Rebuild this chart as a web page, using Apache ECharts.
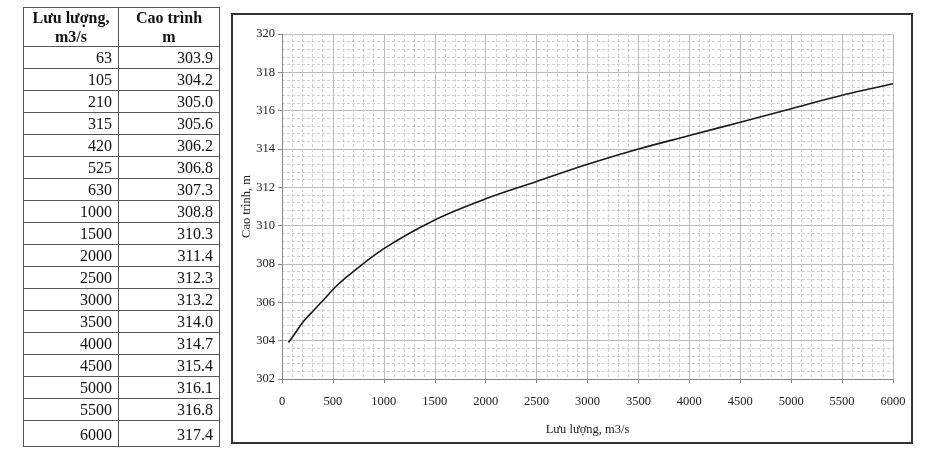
<!DOCTYPE html>
<html>
<head>
<meta charset="utf-8">
<script src="https://cdn.jsdelivr.net/npm/echarts@6/dist/echarts.min.js"></script>
<style>
  html, body { margin: 0; padding: 0; background: #fff; }
  #main { position: absolute; left: 0; top: 0; width: 928px; height: 462px; }
  #tbl {
    position: absolute; left: 23px; top: 7px; border-collapse: collapse;
    font-family: 'Liberation Serif', 'DejaVu Serif', serif; font-size: 16px; color: #111;
  }
  #tbl td, #tbl th { border: 1.5px solid #555; padding: 0 6px; }
  #tbl th { font-weight: bold; text-align: center; line-height: 19px; height: 37px; padding: 0 4px; }
  #tbl td { text-align: right; height: 21px; line-height: 21px; }
  #tbl tr.last td { height: 22px; line-height: 22px; padding-top: 3px; }
</style>
</head>
<body>
<div id="main"></div>
<table id="tbl"></table>
<script>
// lưu lượng (m3/s) và cao trình (m)
var flows = [63, 105, 210, 315, 420, 525, 630, 1000, 1500, 2000, 2500, 3000, 3500, 4000, 4500, 5000, 5500, 6000];
var levels = ['303.9', '304.2', '305.0', '305.6', '306.2', '306.8', '307.3', '308.8', '310.3', '311.4', '312.3', '313.2', '314.0', '314.7', '315.4', '316.1', '316.8', '317.4'];
var headers = ['Lưu lượng,<br>m3/s', 'Cao trình<br>m'];

// bảng bên trái
var html = '<tr><th style="width:86px">' + headers[0] + '</th><th style="width:92px">' + headers[1] + '</th></tr>';
for (var i = 0; i < flows.length; i++) {
	html += '<tr' + (i == flows.length - 1 ? ' class="last"' : '') + '><td>' + flows[i] + '</td><td>' + levels[i] + '</td></tr>';
}
document.getElementById('tbl').innerHTML = html;

var lineData = [];
for (var i = 0; i < flows.length; i++) {
	lineData.push([flows[i], +levels[i]]);
}

var font = 'Liberation Serif';
var myChart = echarts.init(document.getElementById('main'));
var option = {
	animation: false,
	backgroundColor: '#fff',
	graphic: [{
		type: 'rect',
		shape: { x: 232, y: 14, width: 680, height: 429 },
		style: { fill: 'none', stroke: '#333', lineWidth: 2 },
		z: 100
	}],
	grid: {
		left: 282,
		top: 34,
		width: 611,
		height: 345
	},
	xAxis: {
		type: 'value',
		min: 0,
		max: 6000,
		interval: 500,
		name: 'Lưu lượng, m3/s',
		nameLocation: 'middle',
		nameGap: 44,
		nameMoveOverlap: false,
		nameTextStyle: { fontFamily: font, fontSize: 12.5, color: '#222' },
		axisLine: { show: true, lineStyle: { color: '#888' } },
		axisTick: { show: true, length: 4, lineStyle: { color: '#888' } },
		axisLabel: {
			fontFamily: font, fontSize: 12.5, color: '#222', margin: 16,
			formatter: function(v) { return String(v); }
		},
		splitLine: { show: true, lineStyle: { color: '#bbb', width: 1 } },
		minorTick: { show: false, splitNumber: 5 },
		minorSplitLine: { show: true, lineStyle: { color: '#d0d0d0', type: [3, 2], width: 1 } }
	},
	yAxis: {
		type: 'value',
		min: 302,
		max: 320,
		interval: 2,
		name: 'Cao trình, m',
		nameLocation: 'middle',
		nameRotate: 90,
		nameGap: 29,
		nameMoveOverlap: false,
		nameTextStyle: { fontFamily: font, fontSize: 12.5, color: '#222' },
		axisLine: { show: true, lineStyle: { color: '#888' } },
		axisTick: { show: true, length: 4, lineStyle: { color: '#888' } },
		axisLabel: { fontFamily: font, fontSize: 12.5, color: '#222', margin: 7 },
		splitLine: { show: true, lineStyle: { color: '#bbb', width: 1 } },
		minorTick: { show: false, splitNumber: 5 },
		minorSplitLine: { show: true, lineStyle: { color: '#d0d0d0', type: [3, 2], width: 1 } }
	},
	series: [{
		type: 'line',
		data: lineData,
		smooth: 0.35,
		symbol: 'none',
		lineStyle: { color: '#1a1a1a', width: 1.6 }
	}]
};
myChart.setOption(option);
</script>
</body>
</html>
